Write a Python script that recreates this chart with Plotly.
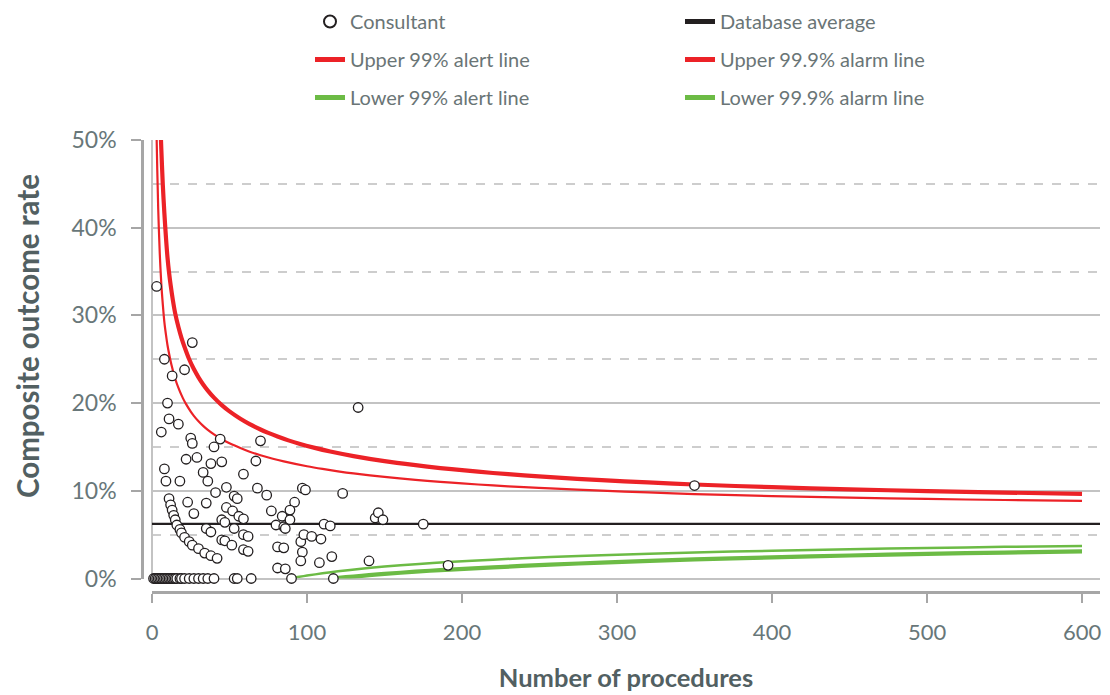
import plotly.graph_objects as go

# ---------------- data ----------------
# consultant points: number of procedures and composite outcome rate (fraction)
cons_n = [3, 26, 8, 21, 13, 10, 11, 17, 6, 25, 26, 44, 40, 70, 67, 22, 29, 38, 45,
          8, 33, 9, 18, 36, 59, 41, 48, 68, 74, 97, 99, 53, 55, 92, 123, 133, 350,
          11, 12, 13, 14, 15, 16, 18, 19, 21, 24, 26, 30, 34, 38, 42,
          23, 27, 35, 48, 52, 45, 47, 56, 59, 35, 38, 53, 59, 62, 45, 47, 51.5, 59, 62,
          80, 84, 85, 89, 89, 86, 77, 81, 85, 81, 86, 96, 98, 103, 109, 97, 96, 108,
          116, 111, 115, 144, 146, 149, 175, 140, 191,
          1, 2, 3, 4, 5, 6, 7, 8, 9, 10, 11, 12, 13, 14, 15, 16, 18, 19, 21, 24, 27,
          30, 33, 36, 40, 53, 55, 64, 90, 117]
cons_rate = [0.333, 0.269, 0.250, 0.238, 0.231, 0.200, 0.182, 0.176, 0.167, 0.160, 0.154,
             0.159, 0.150, 0.157, 0.134, 0.136, 0.138, 0.131, 0.133,
             0.125, 0.121, 0.111, 0.111, 0.111, 0.119, 0.098, 0.104, 0.103, 0.095, 0.103,
             0.101, 0.094, 0.091, 0.087, 0.097, 0.195, 0.106,
             0.091, 0.084, 0.078, 0.072, 0.067, 0.061, 0.056, 0.052, 0.047, 0.042, 0.038,
             0.034, 0.029, 0.026, 0.023,
             0.087, 0.074, 0.086, 0.081, 0.077, 0.067, 0.064, 0.071, 0.068, 0.057, 0.053,
             0.057, 0.050, 0.048, 0.044, 0.043, 0.038, 0.033, 0.031,
             0.061, 0.071, 0.059, 0.078, 0.067, 0.057, 0.077, 0.036, 0.035, 0.012, 0.011,
             0.042, 0.050, 0.048, 0.045, 0.030, 0.020, 0.018,
             0.025, 0.062, 0.060, 0.069, 0.075, 0.067, 0.062, 0.020, 0.015,
             0, 0, 0, 0, 0, 0, 0, 0, 0, 0, 0, 0, 0, 0, 0, 0, 0, 0, 0, 0, 0,
             0, 0, 0, 0, 0, 0, 0, 0, 0]

database_average = 0.0623

upper99_n = [2, 3, 4, 5, 6, 7, 8, 9, 10, 11, 12.5, 15, 17.5, 20, 22, 25, 27, 30, 33, 36,
             40, 45, 50, 57, 63, 70, 78, 85, 100, 110, 120, 130, 150, 170, 186, 200, 220,
             240, 257, 290, 320, 350, 400, 450, 500, 550, 600]
upper99_rate = [0.621, 0.501, 0.422, 0.371, 0.336, 0.312, 0.292, 0.278, 0.266, 0.2565,
                0.2439, 0.2275, 0.2153, 0.2054, 0.1988, 0.1903, 0.1855, 0.1793, 0.174,
                0.1695, 0.1643, 0.1588, 0.1541, 0.1487, 0.1446, 0.1406, 0.1366, 0.1336,
                0.128, 0.1249, 0.1222, 0.1198, 0.1158, 0.1125, 0.1102, 0.1084, 0.1061,
                0.1042, 0.1027, 0.1001, 0.0981, 0.0963, 0.094, 0.0922, 0.0907, 0.0895,
                0.0884]

upper999_n = [4, 5, 6, 7, 8, 9, 10, 11, 12, 13.5, 15, 17, 19, 21, 24, 27, 30, 33, 36, 40,
              45, 50, 57, 63, 70, 75, 81, 88, 95, 105, 115, 130, 150, 170, 186, 200, 220,
              240, 257, 290, 320, 350, 400, 450, 500, 550, 600]
upper999_rate = [0.62, 0.541, 0.490, 0.448, 0.416, 0.389, 0.366, 0.349, 0.335, 0.317,
                 0.302, 0.287, 0.2745, 0.264, 0.250, 0.2388, 0.2294, 0.2213, 0.2143,
                 0.2062, 0.1977, 0.1906, 0.1822, 0.1761, 0.1699, 0.166, 0.1619, 0.1575,
                 0.1536, 0.1489, 0.1448, 0.1396, 0.1338, 0.1292, 0.1259, 0.1235, 0.1203,
                 0.1176, 0.1155, 0.1121, 0.1095, 0.1072, 0.1041, 0.1017, 0.0996, 0.098,
                 0.0965]

lower99_n = [89, 95, 100, 110, 120, 135, 150, 170, 191, 220, 257, 290, 350, 400, 450,
             500, 550, 600]
lower99_rate = [0.0, 0.0019, 0.0033, 0.0059, 0.0082, 0.0111, 0.0136, 0.0163, 0.0187,
                0.0215, 0.0244, 0.0265, 0.0296, 0.0317, 0.0334, 0.0348, 0.0361, 0.0372]

lower999_n = [116, 125, 130, 140, 150, 170, 186, 220, 257, 290, 350, 400, 450, 500, 550,
              600]
lower999_rate = [0.0, 0.0015, 0.0022, 0.0038, 0.0052, 0.0078, 0.0095, 0.0127, 0.0158,
                 0.0181, 0.0217, 0.0241, 0.0262, 0.028, 0.0296, 0.031]

x_max = 611.6
x_ticks = [0, 100, 200, 300, 400, 500, 600]
y_ticks = [0, 0.1, 0.2, 0.3, 0.4, 0.5]

# ---------------- styling ----------------
FONT = "Lato"
RED = "#ec2227"
GREEN = "#6cbb45"
BLACK = "#231f20"
GRID = "#c3c3c3"
TICKTXT = "#687779"
TITLETXT = "#526062"
LEGTXT = "#6a7576"

fig = go.Figure()

fig.add_trace(go.Scatter(x=[0, x_max], y=[database_average, database_average],
                         mode="lines", name="Database average",
                         line=dict(color=BLACK, width=2.2),
                         legend="legend2", legendgroup="avg", legendrank=1))
fig.add_trace(go.Scatter(x=upper99_n, y=upper99_rate, mode="lines",
                         name="Upper 99% alert line",
                         line=dict(color=RED, width=2.2, shape="spline", smoothing=0.8),
                         legend="legend", legendgroup="u99", legendrank=2))
fig.add_trace(go.Scatter(x=upper999_n, y=upper999_rate, mode="lines",
                         name="Upper 99.9% alarm line",
                         line=dict(color=RED, width=4.2, shape="spline", smoothing=0.8),
                         legend="legend2", legendgroup="u999", legendrank=2))
fig.add_trace(go.Scatter(x=lower99_n, y=lower99_rate, mode="lines",
                         name="Lower 99% alert line",
                         line=dict(color=GREEN, width=2.5, shape="spline", smoothing=0.8),
                         legend="legend", legendgroup="l99", legendrank=3))
fig.add_trace(go.Scatter(x=lower999_n, y=lower999_rate, mode="lines",
                         name="Lower 99.9% alarm line",
                         line=dict(color=GREEN, width=4.2, shape="spline", smoothing=0.8),
                         legend="legend2", legendgroup="l999", legendrank=3))
fig.add_trace(go.Scatter(x=cons_n, y=cons_rate, mode="markers", name="Consultant",
                         marker=dict(symbol="circle", size=9.5, color="white",
                                     line=dict(color=BLACK, width=1.3)),
                         cliponaxis=False,
                         legend="legend", legendgroup="cons", legendrank=1))

# page body has an 8px margin: all target pixel positions are shifted by OFF
OFF = 8
W, H = 1110, 695
L, R, T, B = 60, 10, 130, 60
PW = W - L - R
PH = H - T - B


def fx(px):  # screen x pixel -> paper fraction
    return (px - OFF - L) / PW


def fy(py):  # screen y pixel -> paper fraction
    return (H - B - (py - OFF)) / PH


fig.update_layout(
    width=W, height=H,
    margin=dict(l=L, r=R, t=T, b=B, autoexpand=False),
    paper_bgcolor="white", plot_bgcolor="white",
    font=dict(family=FONT, color=TICKTXT),
    showlegend=True,
    legend=dict(x=fx(310), xanchor="left",
                y=fy(2), yanchor="top",
                orientation="v", tracegroupgap=9, itemsizing="constant",
                font=dict(family=FONT, size=20, color=LEGTXT),
                bgcolor="rgba(0,0,0,0)"),
    legend2=dict(x=fx(680), xanchor="left",
                 y=fy(2), yanchor="top",
                 orientation="v", tracegroupgap=9, itemsizing="constant",
                 font=dict(family=FONT, size=20, color=LEGTXT),
                 bgcolor="rgba(0,0,0,0)"),
    xaxis=dict(
        domain=[fx(152), fx(1100)],
        anchor="free", position=fy(592),
        automargin=False,
        range=[0, x_max],
        tickvals=x_ticks, ticktext=[str(v) for v in x_ticks],
        showgrid=False,
        zeroline=True, zerolinecolor=GRID, zerolinewidth=2,
        showline=True, linecolor="#a6a6a6", linewidth=2.5,
        ticks="outside", ticklen=9, tickwidth=2, tickcolor="#a6a6a6",
        ticklabelstandoff=11,
        tickfont=dict(family=FONT, size=22, color=TICKTXT),
        title=dict(text="<b>Number of procedures</b>", standoff=24,
                   font=dict(family=FONT, size=25.5, color=TITLETXT)),
    ),
    yaxis=dict(
        domain=[fy(578.5), fy(140)],
        anchor="free", position=fx(142),
        automargin=False,
        range=[0, 0.5],
        tickvals=y_ticks, tickformat=".0%",
        showgrid=True, gridcolor=GRID, gridwidth=2,
        minor=dict(dtick=0.05, showgrid=True, gridcolor="#cdcdcd", gridwidth=1.5,
                   griddash="dash", ticks=""),
        zeroline=True, zerolinecolor=GRID, zerolinewidth=2,
        showline=True, linecolor="#a6a6a6", linewidth=2.5,
        ticks="outside", ticklen=10, tickwidth=2, tickcolor="#a6a6a6",
        ticklabelstandoff=10,
        tickfont=dict(family=FONT, size=23, color=TICKTXT),
    ),
    annotations=[dict(text="<b>Composite outcome rate</b>", textangle=-90,
                      xref="paper", yref="paper", x=fx(27), y=fy(336),
                      xanchor="center", yanchor="middle", showarrow=False,
                      font=dict(family=FONT, size=29.5, color=TITLETXT))],
)

fig.write_html("out.html")
